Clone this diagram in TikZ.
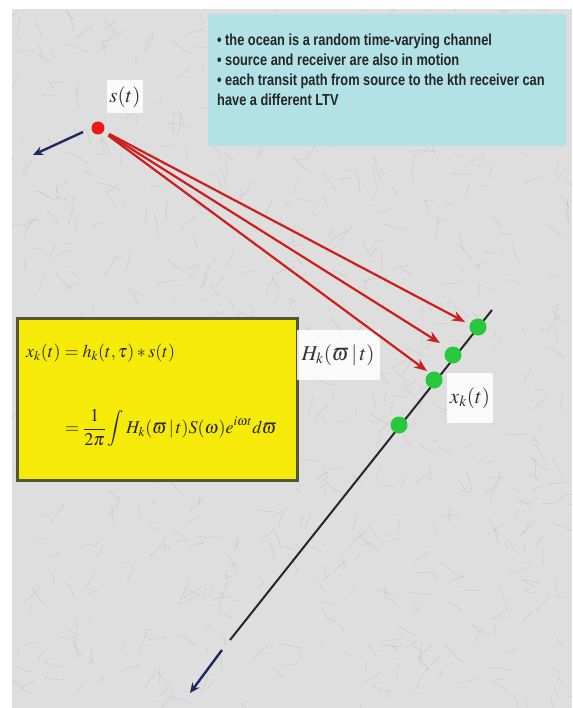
\documentclass[tikz,border=0pt]{standalone}
\usepackage{fontspec}
\usepackage{mathptmx}
\setmainfont{Liberation Serif}
\newfontfamily\notefont[FakeStretch=0.8]{Liberation Sans}
\usetikzlibrary{arrows.meta}
\definecolor{marble}{RGB}{222,222,222}
\definecolor{veincol}{RGB}{140,140,148}
\definecolor{cyanfill}{RGB}{178,226,230}
\definecolor{yellowfill}{RGB}{246,234,8}
\definecolor{yellowborder}{RGB}{85,85,55}
\definecolor{redarrow}{RGB}{205,30,30}
\definecolor{navyarrow}{RGB}{30,42,95}
\definecolor{dotgreen}{RGB}{40,200,60}
\definecolor{dotred}{RGB}{235,25,25}
\tikzset{
  vein/.style={draw=veincol, line width=0.45pt, opacity=0.25},
  notebox/.style={fill=cyanfill, draw=none, minimum width=358pt, minimum height=132pt, inner sep=0pt},
  notetext/.style={anchor=north west, inner sep=0pt, align=left, font=\notefont\bfseries\fontsize{16}{20}\selectfont, text=black!85},
  formulabox/.style={fill=yellowfill, draw=yellowborder, line width=3pt, minimum width=280pt, minimum height=162pt, inner sep=0pt},
  formula/.style={anchor=west, inner sep=0pt, font=\fontsize{18}{21}\selectfont, text=black!85},
  labelbox/.style={fill=white, fill opacity=0.85, text opacity=1, inner sep=0pt, font=\fontsize{21}{25}\selectfont, text=black!80},
  rdot/.style={circle, fill=dotred, minimum width=13pt, inner sep=0pt, draw=none},
  gdot/.style={circle, fill=dotgreen, minimum width=17pt, inner sep=0pt, draw=none},
  redpath/.style={draw=redarrow, line width=2.2pt, -{Stealth[length=13pt,width=10pt]}},
  navypath/.style={draw=navyarrow, line width=2.4pt, -{Stealth[length=10pt,width=9pt]}},
  rxline/.style={draw=black!85, line width=2pt}
}
\begin{document}
\begin{tikzpicture}[x=1pt,y=-1pt]
\useasboundingbox (0,0) rectangle (572,708);
\fill[white] (0,0) rectangle (572,708);
\fill[marble] (12,9) rectangle (572,708);
\begin{scope}
  \clip (12,9) rectangle (572,708);
  \pgfmathsetseed{11}
  \foreach \i in {1,...,700}{
    \pgfmathsetmacro\px{12+560*rnd}
    \pgfmathsetmacro\py{9+700*rnd}
    \pgfmathsetmacro\ang{360*rnd}
    \pgfmathsetmacro\len{6+16*rnd}
    \draw[vein] (\px,\py) .. controls +(\ang:\len/2) and +(\ang+60:\len/3) .. +(\ang+20:\len);
  }
\end{scope}

% note box
\node[notebox] (note) at (387,80) {};
\node[notetext] (notetxt) at (217,34) {%
  \textbullet\ the ocean is a random time-varying channel\\
  \textbullet\ source and receiver are also in motion\\
  \textbullet\ each transit path from source to the kth receiver can\\
  have a different LTV};

% formula box
\node[formulabox] (fbox) at (157,399) {};
\node[formula] (f1) at (26,353) {$x_k(t)=h_k(t,\tau)*s(t)$};
\node[formula] (f2) at (65,428) {$\displaystyle=\frac{1}{2\pi}\int H_k(\varpi\,|\,t)S(\omega)e^{i\omega t}d\varpi$};

% receiver line
\coordinate (ltop) at (492,310);
\coordinate (lbot) at (230,640);
\draw[rxline] (ltop) -- (lbot);

% receivers
\node[gdot] (r1) at (478,327) {};
\node[gdot] (r2) at (453,355) {};
\node[gdot] (r3) at (434,380) {};
\node[gdot] (r4) at (399,425) {};

% source
\node[rdot] (src) at (98,128) {};
\node[labelbox, minimum width=36pt, minimum height=33pt] (slab) at (125,97) {$s(t)$};

% labels
\node[labelbox, minimum width=83pt, minimum height=50pt] (hlab) at (338,355) {$H_k(\varpi\,|\,t)$};
\node[labelbox, minimum width=46pt, minimum height=50pt] (xlab) at (470,398) {$x_k(t)$};

% red transmission arrows
\coordinate (a1) at (465,322);
\coordinate (a2) at (440,343);
\coordinate (a3) at (427,371);
\draw[redpath, shorten <=6pt] (src) -- (a1);
\draw[redpath, shorten <=6pt] (src) -- (a2);
\draw[redpath, shorten <=6pt] (src) -- (a3);

% motion arrows
\coordinate (b1s) at (83,132);
\coordinate (b1e) at (33,155);
\draw[navypath] (b1s) -- (b1e);
\coordinate (b2s) at (222,650);
\coordinate (b2e) at (190,693);
\draw[navypath] (b2s) -- (b2e);
\end{tikzpicture}
\end{document}
